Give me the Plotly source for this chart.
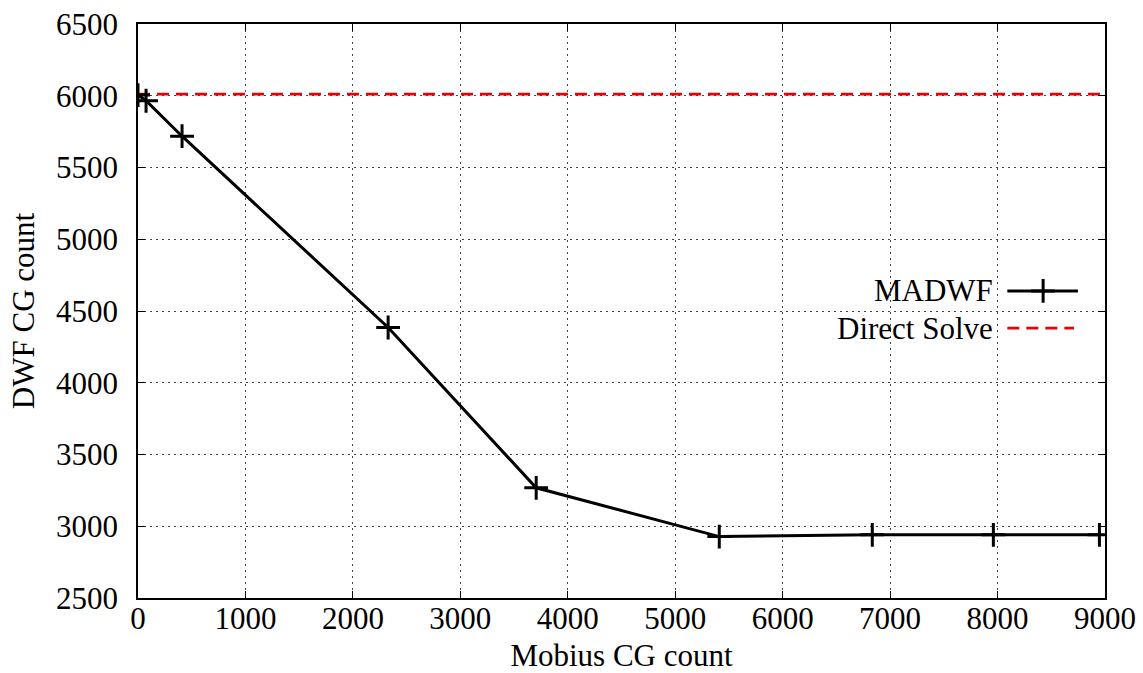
import plotly.graph_objects as go

# MADWF solver: Mobius inner CG iterations vs outer DWF CG iterations
mobius_cg = [0, 75, 410, 2328, 3706, 5410, 6834, 7961, 8948]
dwf_cg = [6005, 5965, 5718, 4385, 3268, 2928, 2940, 2940, 2940]

# Direct DWF solve (independent of Mobius count)
direct_solve_cg = 6012
x_span = [0, 9000]

x_ticks = [0, 1000, 2000, 3000, 4000, 5000, 6000, 7000, 8000, 9000]
y_ticks = [2500, 3000, 3500, 4000, 4500, 5000, 5500, 6000, 6500]

FONT = "Liberation Serif"
FS = 31
RED_DASH = "12px,7px"

fig = go.Figure()

fig.add_trace(go.Scatter(
    x=x_span, y=[direct_solve_cg, direct_solve_cg], mode="lines",
    line=dict(color="#ee0000", width=2.8, dash=RED_DASH),
    name="Direct Solve", showlegend=False))

fig.add_trace(go.Scatter(
    x=mobius_cg, y=dwf_cg, mode="lines+markers",
    line=dict(color="black", width=3),
    marker=dict(symbol="cross-thin", size=17, line=dict(color="black", width=3)),
    name="MADWF", showlegend=False))

# Key samples drawn on an overlay axis spanning the plot area
fig.add_trace(go.Scatter(
    x=[0.899, 0.972], y=[0.535, 0.535], mode="lines",
    line=dict(color="black", width=3),
    xaxis="x2", yaxis="y2", showlegend=False, hoverinfo="skip"))
fig.add_trace(go.Scatter(
    x=[0.936], y=[0.535], mode="markers",
    marker=dict(symbol="cross-thin", size=17, line=dict(color="black", width=3)),
    xaxis="x2", yaxis="y2", showlegend=False, hoverinfo="skip"))
fig.add_trace(go.Scatter(
    x=[0.899, 0.968], y=[0.47, 0.47], mode="lines",
    line=dict(color="#ee0000", width=2.8, dash=RED_DASH),
    xaxis="x2", yaxis="y2", showlegend=False, hoverinfo="skip"))

fig.add_annotation(x=0.886, y=0.535, xref="paper", yref="paper", text="MADWF",
                   showarrow=False, xanchor="right", yanchor="middle",
                   font=dict(family=FONT, size=FS, color="black"))
fig.add_annotation(x=0.886, y=0.47, xref="paper", yref="paper", text="Direct Solve",
                   showarrow=False, xanchor="right", yanchor="middle",
                   font=dict(family=FONT, size=FS, color="black"))

axis_common = dict(
    showline=True, linecolor="black", linewidth=1.5, mirror="allticks",
    ticks="inside", ticklen=7, tickcolor="black", tickwidth=1,
    showgrid=True, gridcolor="#444444", griddash="1.5px,4.5px", gridwidth=1.3,
    zeroline=False, automargin=False,
    tickfont=dict(family=FONT, size=FS, color="black"),
)

fig.update_layout(
    width=1143, height=673,
    margin=dict(l=138, r=38, t=24, b=75),
    paper_bgcolor="white", plot_bgcolor="white",
    xaxis=dict(range=[0, 9000], tickvals=x_ticks,
               ticktext=[str(v) for v in x_ticks],
               title=dict(text="Mobius CG count", standoff=10,
                          font=dict(family=FONT, size=FS, color="black")),
               ticklabelstandoff=-8, **axis_common),
    yaxis=dict(range=[2500, 6500], tickvals=y_ticks,
               ticktext=[str(v) for v in y_ticks],
               title=dict(text="DWF CG count", standoff=12,
                          font=dict(family=FONT, size=FS, color="black")),
               ticklabelstandoff=12, **axis_common),
    xaxis2=dict(range=[0, 1], overlaying="x", visible=False, fixedrange=True),
    yaxis2=dict(range=[0, 1], overlaying="y", visible=False, fixedrange=True),
    showlegend=False,
)

fig.write_html("out.html")
